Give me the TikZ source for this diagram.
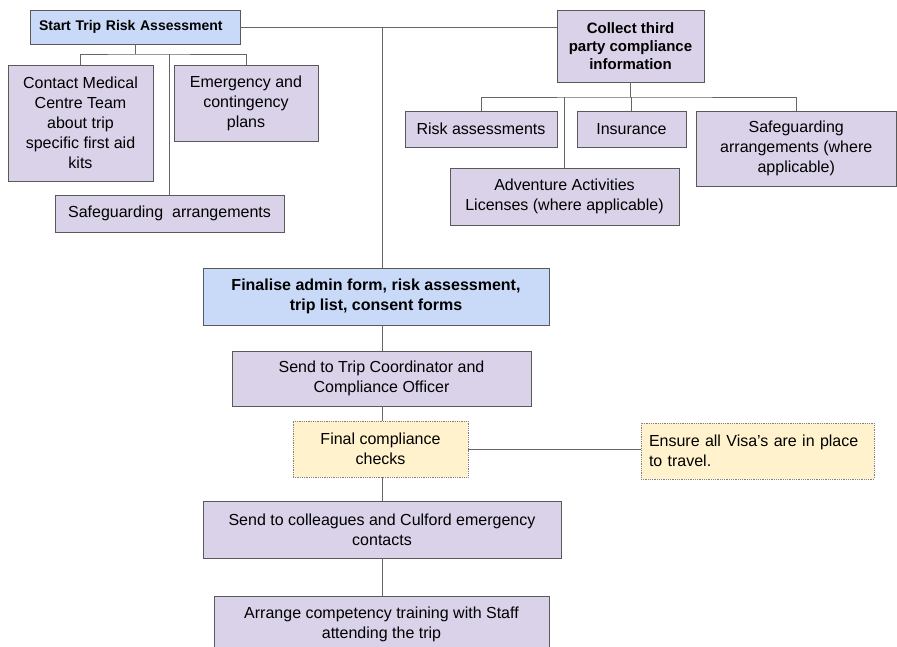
\documentclass[tikz,border=0pt]{standalone}
\usepackage{fontspec}
\setmainfont{Liberation Sans}
\definecolor{bluefill}{HTML}{C9DAF8}
\definecolor{purplefill}{HTML}{D9D2E9}
\definecolor{yellowfill}{HTML}{FFF2CC}
\definecolor{edgegray}{HTML}{595959}
\definecolor{linegray}{HTML}{666666}

\begin{document}
\begin{tikzpicture}[x=1pt, y=-1pt,
        box/.style = {draw=edgegray, line width=0.8pt, text=black, inner xsep=8pt, inner ysep=0pt,
            align=center, font=\fontsize{16}{20}\selectfont},
        sized/.style 2 args = {minimum width=#1, minimum height=#2},
        purplebox/.style = {box, fill=purplefill},
        bluebox/.style = {box, fill=bluefill, font=\bfseries\fontsize{16}{20}\selectfont},
        yellowbox/.style = {box, fill=yellowfill, draw=gray, densely dotted},
        conn/.style = {draw=linegray, line width=1pt}]
    \path[use as bounding box, fill=white] (0,0) rectangle (897,646);

    % top row
    \node[bluebox, sized={210}{34}, text width=192, align=left,
        font=\bfseries\fontsize{14}{16}\selectfont] (start) at (135,27) {Start Trip Risk Assessment};
    \node[purplebox, sized={147}{72}, fill=purplefill,
        font=\bfseries\fontsize{15}{18}\selectfont] (collect) at (630.5,46) {Collect third\\party compliance\\information};

    % left branch
    \node[purplebox, sized={145}{116}] (contact) at (80.5,123) {Contact Medical\\Centre Team\\about trip\\specific first aid\\kits};
    \node[purplebox, sized={144}{76}] (emerg) at (246,103) {Emergency and\\contingency\\plans};
    \node[purplebox, sized={229}{37}] (safe) at (169.5,213.5) {Safeguarding\ \ arrangements};

    % right branch
    \node[purplebox, sized={152}{36}] (risk) at (481,129) {Risk assessments};
    \node[purplebox, sized={109}{36}] (insur) at (631.5,129) {Insurance};
    \node[purplebox, sized={200.5}{75}] (safetp) at (796.25,148.5) {Safeguarding\\arrangements (where\\applicable)};
    \node[purplebox, sized={229}{57}] (advent) at (564.5,196.5) {Adventure Activities\\Licenses (where applicable)};

    % main column
    \node[bluebox, sized={346}{57}] (finalise) at (376,296.5) {Finalise admin form, risk assessment,\\trip list, consent forms};
    \node[purplebox, sized={299}{55}] (sendtc) at (381.5,378.5) {Send to Trip Coordinator and\\Compliance Officer};
    \node[yellowbox, sized={175}{56}] (checks) at (380.5,449) {Final compliance\\checks};
    \node[yellowbox, sized={233}{56}, text width=217, align=left] (visa) at (757.5,451) {Ensure all Visa's are in place\\to travel.};
    \node[purplebox, sized={358}{57}] (colleag) at (382,529.5) {Send to colleagues and Culford emergency\\contacts};
    \node[purplebox, sized={335}{57}] (arrange) at (381.5,624.5) {Arrange competency training with Staff\\attending the trip};

    % connectors
    \coordinate (spine) at (382,0);
    \coordinate (lj) at (135,54);
    \coordinate (rj) at (630.5,97);
    \draw[conn] (start.east) -- (start.east -| collect.west);
    \draw[conn] (start.east -| spine) -- (finalise.north -| spine);
    \draw[conn] (start.south) -- (lj);
    \draw[conn] (contact.north) |- (lj) -| (emerg.north);
    \draw[conn] (safe.north) -- (safe.north |- lj);
    \draw[conn] (collect.south) -- (rj);
    \draw[conn] (risk.north) |- (rj) -| (safetp.north);
    \draw[conn] (insur.north) -- (insur.north |- rj);
    \draw[conn] (advent.north) -- (advent.north |- rj);
    \draw[conn] (finalise.south -| spine) -- (sendtc.north -| spine);
    \draw[conn] (sendtc.south -| spine) -- (checks.north -| spine);
    \draw[conn] (checks.east) -- (checks.east -| visa.west);
    \draw[conn] (checks.south -| spine) -- (colleag.north -| spine);
    \draw[conn] (colleag.south -| spine) -- (arrange.north -| spine);
\end{tikzpicture}
\end{document}
